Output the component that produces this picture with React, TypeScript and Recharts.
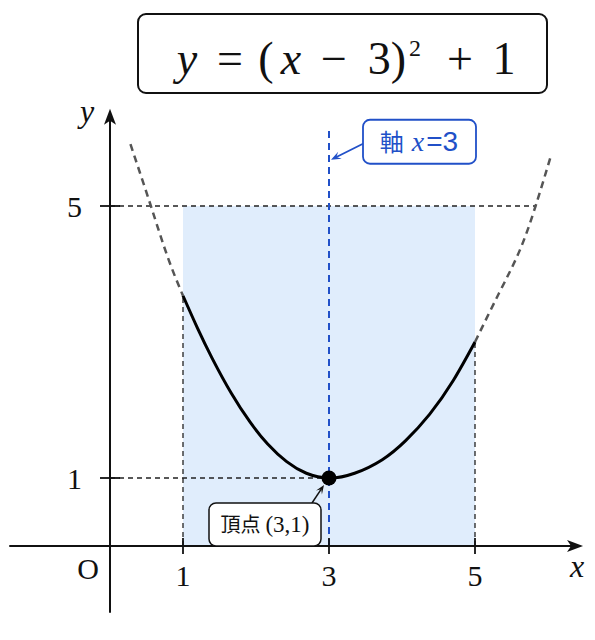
import React from "react";
import {
  ComposedChart,
  Line,
  XAxis,
  YAxis,
  ReferenceArea,
  ReferenceLine,
  ReferenceDot,
} from "recharts";

// curve (x, y in graph units)
const leftDashX = [0.28, 0.56, 0.79, 1.0];
const leftDashY = [5.91, 5.0, 4.25, 3.68];
const solidX = [1.0, 1.2, 1.4, 1.66, 1.92, 2.16, 2.42, 2.69, 3.0, 3.35, 3.73, 4.05, 4.38, 4.7, 5.0];
const solidY = [3.68, 3.2, 2.76, 2.25, 1.82, 1.5, 1.24, 1.07, 1.0, 1.07, 1.27, 1.55, 1.94, 2.43, 3.0];
const rightDashX = [5.0, 5.33, 5.61, 5.83, 6.04];
const rightDashY = [3.0, 3.72, 4.34, 5.0, 5.74];

const xTicks = [1, 3, 5];
const yTicks = [1, 5];
const vertex = { x: 3, y: 1 };
const axisX = 3;
const axisTop = 6.14;
const axisLabelY = 5.68;
const rangeX = [1, 5];
const rangeY = [0, 5];
const guideRightX = 5.83;
const rangeEndY = [3.68, 3.0];

const toPoints = (xs: number[], ys: number[]) => xs.map((x, i) => ({ x, y: ys[i] }));
const leftDash = toPoints(leftDashX, leftDashY);
const solid = toPoints(solidX, solidY);
const rightDash = toPoints(rightDashX, rightDashY);

const SERIF = '"Liberation Serif", "DejaVu Serif", serif';
const CJK = '"Noto Sans CJK JP", sans-serif';
const BLUE = "#2150c8";

function arrowHead(tx: number, ty: number, ux: number, uy: number, len: number, w: number, fill: string) {
  const px = -uy;
  const py = ux;
  const d = `M${tx},${ty} L${tx - ux * len + px * w},${ty - uy * len + py * w} L${tx - ux * (len - 4)},${ty - uy * (len - 4)} L${tx - ux * len - px * w},${ty - uy * len - py * w} Z`;
  return <path d={d} fill={fill} stroke="none" />;
}

function AxisArrow(props: any) {
  const { x1, y1, x2, y2, name } = props;
  const dx = x2 - x1;
  const dy = y2 - y1;
  const L = Math.sqrt(dx * dx + dy * dy);
  const ux = dx / L;
  const uy = dy / L;
  return (
    <g>
      <line x1={x1} y1={y1} x2={x2 - ux * 6} y2={y2 - uy * 6} stroke="#111" strokeWidth={2} />
      {arrowHead(x2, y2, ux, uy, 16, 6, "#111")}
      {name === "x" ? (
        <text x={x2 - 6} y={y2 + 31} textAnchor="middle" fontFamily={SERIF} fontStyle="italic" fontSize={32} fill="#111">
          x
        </text>
      ) : (
        <text x={x2 - 23} y={y2 + 13} textAnchor="middle" fontFamily={SERIF} fontStyle="italic" fontSize={32} fill="#111">
          y
        </text>
      )}
    </g>
  );
}

function XTick(props: any) {
  const { cx, cy, text } = props;
  return (
    <g>
      <line x1={cx} y1={cy - 8} x2={cx} y2={cy + 8} stroke="#111" strokeWidth={1.8} />
      <text x={cx} y={cy + 40} textAnchor="middle" fontFamily={SERIF} fontSize={30} fill="#111">
        {text}
      </text>
    </g>
  );
}

function YTick(props: any) {
  const { cx, cy, text } = props;
  return (
    <g>
      <line x1={cx - 10} y1={cy} x2={cx + 10} y2={cy} stroke="#111" strokeWidth={1.8} />
      <text x={cx - 28} y={cy + 11} textAnchor="end" fontFamily={SERIF} fontSize={30} fill="#111">
        {text}
      </text>
    </g>
  );
}

function Origin(props: any) {
  const { cx, cy } = props;
  return (
    <text x={cx - 22} y={cy + 33} textAnchor="middle" fontFamily={SERIF} fontSize={30} fill="#111">
      O
    </text>
  );
}

function VertexCallout(props: any) {
  const { cx, cy } = props;
  const ax = cx - 17;
  const ay = cy + 25;
  const bx = cx - 5;
  const by = cy + 7;
  const dx = bx - ax;
  const dy = by - ay;
  const L = Math.sqrt(dx * dx + dy * dy);
  return (
    <g>
      <circle cx={cx} cy={cy} r={7.5} fill="#000" />
      <line x1={ax} y1={ay} x2={bx - (dx / L) * 5} y2={by - (dy / L) * 5} stroke="#111" strokeWidth={1.5} />
      {arrowHead(bx, by, dx / L, dy / L, 9, 3.5, "#111")}
      <rect x={cx - 120} y={cy + 25} width={112} height={43} rx={7} fill="#fff" stroke="#111" strokeWidth={1.5} />
      <text x={cx - 64} y={cy + 54} textAnchor="middle" fontSize={20} fill="#111">
        <tspan fontFamily={CJK}>頂点</tspan>
        <tspan fontFamily={SERIF} fontSize={23} dx={5}>
          (3,1)
        </tspan>
      </text>
    </g>
  );
}

function AxisCallout(props: any) {
  const { cx, cy } = props;
  const ax = cx + 34;
  const ay = cy - 16;
  const bx = cx + 2;
  const by = cy;
  const dx = bx - ax;
  const dy = by - ay;
  const L = Math.sqrt(dx * dx + dy * dy);
  return (
    <g>
      <line x1={ax} y1={ay} x2={bx - (dx / L) * 5} y2={by - (dy / L) * 5} stroke={BLUE} strokeWidth={1.8} />
      {arrowHead(bx, by, dx / L, dy / L, 10, 4, BLUE)}
      <rect x={cx + 34} y={cy - 40} width={113} height={44} rx={7} fill="#fff" stroke={BLUE} strokeWidth={1.8} />
      <text x={cx + 90} y={cy - 9} textAnchor="middle" fontSize={28} fill={BLUE}>
        <tspan fontFamily={CJK} fontSize={24}>軸</tspan>
        <tspan fontFamily={SERIF} fontStyle="italic" dx={8}>
          x
        </tspan>
        <tspan fontFamily='"Liberation Sans", sans-serif' dx={2}>=3</tspan>
      </text>
    </g>
  );
}

function Title() {
  const base = 74;
  const t = (x: number, s: string, italic = false) => (
    <text x={x} y={base} textAnchor="middle" fontFamily={SERIF} fontSize={46} fontStyle={italic ? "italic" : "normal"} fill="#111">
      {s}
    </text>
  );
  return (
    <svg width={595} height={100} style={{ position: "absolute", left: 0, top: 0 }}>
      <rect x={138} y={14} width={409} height={79} rx={8} fill="#fff" stroke="#111" strokeWidth={2} />
      {t(187, "y", true)}
      {t(230, "=")}
      {t(266, "(")}
      {t(291, "x", true)}
      {t(334, "−")}
      {t(387, "3)")}
      <text x={415} y={56} textAnchor="middle" fontFamily={SERIF} fontSize={24} fill="#111">
        2
      </text>
      {t(460, "+")}
      {t(504, "1")}
    </svg>
  );
}

export default function App() {
  return (
    <div style={{ position: "absolute", left: 0, top: 0, width: 595, height: 640, background: "#fff" }}>
      <Title />
      <ComposedChart
        width={595}
        height={640}
        margin={{ top: 107.4, right: 3.2, bottom: 26, left: 4.15 }}
        style={{ position: "absolute", left: 0, top: 0 }}
      >
        <XAxis type="number" dataKey="x" domain={[-1.45, 6.6]} allowDataOverflow hide />
        <YAxis type="number" dataKey="y" domain={[-1, 6.45]} allowDataOverflow hide />
        <ReferenceArea x1={rangeX[0]} x2={rangeX[1]} y1={rangeY[0]} y2={rangeY[1]} fill="#e0edfc" fillOpacity={1} stroke="none" />
        <ReferenceLine segment={[{ x: 0, y: yTicks[1] }, { x: guideRightX, y: yTicks[1] }]} stroke="#222" strokeWidth={1.3} strokeDasharray="5 4" />
        <ReferenceLine segment={[{ x: 0, y: yTicks[0] }, { x: vertex.x, y: yTicks[0] }]} stroke="#222" strokeWidth={1.3} strokeDasharray="5 4" />
        <ReferenceLine segment={[{ x: rangeX[0], y: 0 }, { x: rangeX[0], y: rangeEndY[0] }]} stroke="#222" strokeWidth={1.3} strokeDasharray="5 4" />
        <ReferenceLine segment={[{ x: rangeX[1], y: 0 }, { x: rangeX[1], y: rangeEndY[1] }]} stroke="#222" strokeWidth={1.3} strokeDasharray="5 4" />
        <ReferenceLine segment={[{ x: axisX, y: 0 }, { x: axisX, y: axisTop }]} stroke={BLUE} strokeWidth={2} strokeDasharray="7 5" />
        <ReferenceLine segment={[{ x: -1.38, y: 0 }, { x: 6.48, y: 0 }]} shape={(p: any) => <AxisArrow {...p} name="x" />} />
        <ReferenceLine segment={[{ x: 0, y: -0.98 }, { x: 0, y: 6.43 }]} shape={(p: any) => <AxisArrow {...p} name="y" />} />
        <Line data={leftDash} dataKey="y" type="natural" stroke="#555" strokeWidth={2.5} strokeDasharray="7 5" dot={false} isAnimationActive={false} />
        <Line data={rightDash} dataKey="y" type="natural" stroke="#555" strokeWidth={2.5} strokeDasharray="7 5" dot={false} isAnimationActive={false} />
        <Line data={solid} dataKey="y" type="natural" stroke="#000" strokeWidth={3} dot={false} isAnimationActive={false} />
        {xTicks.map((t) => (
          <ReferenceDot key={"x" + t} x={t} y={0} r={0} shape={(p: any) => <XTick {...p} text={String(t)} />} />
        ))}
        {yTicks.map((t) => (
          <ReferenceDot key={"y" + t} x={0} y={t} r={0} shape={(p: any) => <YTick {...p} text={String(t)} />} />
        ))}
        <ReferenceDot x={0} y={0} r={0} shape={(p: any) => <Origin {...p} />} />
        <ReferenceDot x={axisX} y={axisLabelY} r={0} shape={(p: any) => <AxisCallout {...p} />} />
        <ReferenceDot x={vertex.x} y={vertex.y} r={7.5} shape={(p: any) => <VertexCallout {...p} />} />
      </ComposedChart>
    </div>
  );
}
